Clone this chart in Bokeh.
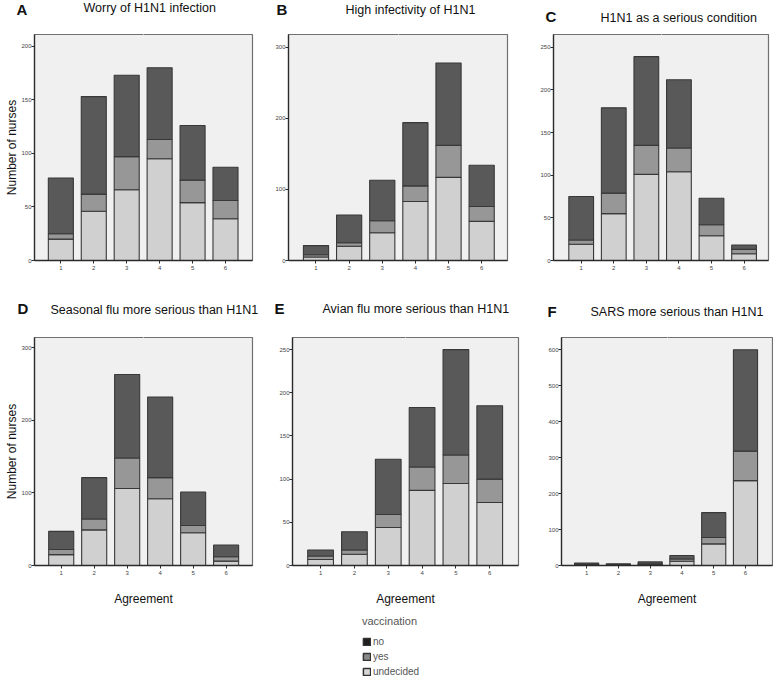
from bokeh.plotting import figure
from bokeh.models import (ColumnDataSource, Range1d, FixedTicker, Title, Legend, LegendItem,
                          LinearAxis)
from bokeh.layouts import column, row
from bokeh.embed import file_html
from bokeh.resources import INLINE

# ---------------- data ----------------
agreement = [1, 2, 3, 4, 5, 6]
agreement_labels = ["1", "2", "3", "4", "5", "6"]
stack_order = ["undecided", "yes", "no"]
legend_order = ["no", "yes", "undecided"]

panel_letters = ["A", "B", "C", "D", "E", "F"]
panel_titles = [
    "Worry of H1N1 infection",
    "High infectivity of H1N1",
    "H1N1 as a serious condition",
    "Seasonal flu more serious than H1N1",
    "Avian flu more serious than H1N1",
    "SARS more serious than H1N1",
]

# counts per agreement level 1..6
a_undecided = [20, 46, 66, 95, 54, 39]
a_yes = [5, 16, 31, 18, 21, 17]
a_no = [52, 91, 76, 67, 51, 31]

b_undecided = [5, 20, 39, 83, 117, 55]
b_yes = [3, 5, 17, 22, 45, 21]
b_no = [13, 39, 57, 89, 116, 58]

c_undecided = [19, 55, 101, 104, 29, 8]
c_yes = [5, 24, 34, 28, 13, 5]
c_no = [51, 100, 104, 80, 31, 5]

d_undecided = [15, 49, 106, 92, 45, 6]
d_yes = [7, 15, 42, 29, 10, 6]
d_no = [25, 57, 115, 111, 46, 16]

e_undecided = [7, 13, 44, 87, 95, 73]
e_yes = [4, 5, 15, 27, 33, 27]
e_no = [7, 21, 64, 69, 122, 85]

f_undecided = [2, 1, 3, 12, 60, 236]
f_yes = [1, 1, 2, 6, 18, 82]
f_no = [4, 3, 5, 10, 69, 282]

y_ticks_a = [0, 50, 100, 150, 200]
y_ticks_b = [0, 100, 200, 300]
y_ticks_c = [0, 50, 100, 150, 200, 250]
y_ticks_d = [0, 100, 200, 300]
y_ticks_e = [0, 50, 100, 150, 200, 250]
y_ticks_f = [0, 100, 200, 300, 400, 500, 600]

y_label = "Number of nurses"
x_label = "Agreement"
legend_title = "vaccination"

# ---------------- style ----------------
COLORS = {"undecided": "#d0d0d0", "yes": "#979797", "no": "#595959"}
EDGE = "#383838"
FRAME_BG = "#f0f0f0"
FONT = "Liberation Sans"

# b = (top, right, bottom, left) borders; sp = spacer height above frame;
# toff = title offset from frame left; loff/ls = letter offset / standoff
panels = [
    dict(und=a_undecided, yes=a_yes, no=a_no, ticks=y_ticks_a, ymax=211, xr=(0.2, 6.82),
         w=262, h=282, b=(33, 10, 20, 34), sp=18, toff=49, loff=-18, ls=-34, ylab=-1, xlab=False),
    dict(und=b_undecided, yes=b_yes, no=b_no, ticks=y_ticks_b, ymax=318, xr=(0.17, 6.78),
         w=255, h=282, b=(32, 10, 20, 26), sp=16, toff=57, loff=-12, ls=-30, ylab=None, xlab=False),
    dict(und=c_undecided, yes=c_yes, no=c_no, ticks=y_ticks_c, ymax=265, xr=(0.15, 6.75),
         w=256, h=282, b=(30, 5, 22, 36), sp=8, toff=47, loff=-8, ls=-28, ylab=None, xlab=False),
    dict(und=d_undecided, yes=d_yes, no=d_no, ticks=y_ticks_d, ymax=314, xr=(0.19, 6.8),
         w=262, h=326, b=(54, 10, 43, 34), sp=19, toff=16, loff=-17, ls=-28, ylab=-1, xlab=True),
    dict(und=e_undecided, yes=e_yes, no=e_no, ticks=y_ticks_e, ymax=264, xr=(0.17, 6.85),
         w=258, h=326, b=(55, 2, 43, 30), sp=20, toff=30, loff=-18, ls=-31, ylab=None, xlab=True),
    dict(und=f_undecided, yes=f_yes, no=f_no, ticks=y_ticks_f, ymax=634, xr=(0.21, 6.85),
         w=253, h=326, b=(52, 1, 43, 41), sp=17, toff=29, loff=-14, ls=-31, ylab=None, xlab=True),
]

figs = []
for i, cfg in enumerate(panels):
    top, right, bottom, left = cfg["b"]
    p = figure(width=cfg["w"], height=cfg["h"], output_backend="svg", toolbar_location=None,
               x_range=Range1d(*cfg["xr"]), y_range=Range1d(0, cfg["ymax"]),
               min_border_top=top, min_border_right=right,
               min_border_bottom=bottom, min_border_left=left)
    p.background_fill_color = FRAME_BG
    p.border_fill_color = "white"
    p.outline_line_color = "#707070"
    p.outline_line_width = 1.2
    p.grid.visible = False

    src = ColumnDataSource(dict(x=agreement, undecided=cfg["und"], yes=cfg["yes"], no=cfg["no"]))
    p.vbar_stack(stack_order, x="x", width=0.76, source=src,
                 fill_color=[COLORS[s] for s in stack_order],
                 line_color=EDGE, line_width=1.1)

    p.xaxis.ticker = FixedTicker(ticks=agreement)
    p.xaxis.major_label_overrides = {k: v for k, v in zip(agreement, agreement_labels)}
    p.yaxis.ticker = FixedTicker(ticks=cfg["ticks"])
    for ax in (p.xaxis, p.yaxis):
        ax.axis_line_color = "#2a2a2a"
        ax.axis_line_width = 1.3
        ax.major_tick_line_color = "#2a2a2a"
        ax.major_tick_out = 3
        ax.major_tick_in = 0
        ax.minor_tick_line_color = None
        ax.major_label_text_font = FONT
        ax.major_label_text_font_size = "6px"
        ax.major_label_text_color = "#444444"
        ax.axis_label_text_font = FONT
        ax.axis_label_text_font_style = "normal"
        ax.axis_label_text_color = "#111111"
    p.xaxis.major_label_standoff = 2
    p.yaxis.major_label_standoff = 0
    if cfg["ylab"] is not None:
        p.yaxis.axis_label = y_label
        p.yaxis.axis_label_text_font_size = "12px"
        p.yaxis.axis_label_standoff = cfg["ylab"]
    if cfg["xlab"]:
        p.xaxis.axis_label = x_label
        p.xaxis.axis_label_text_font_size = "12px"
        p.xaxis.axis_label_standoff = 14

    # invisible spacer between the frame and the panel title
    mid = (cfg["xr"][0] + cfg["xr"][1]) / 2
    spacer = LinearAxis(ticker=FixedTicker(ticks=[mid]), axis_line_color=None,
                        major_tick_line_color="white", minor_tick_line_color=None,
                        major_tick_out=cfg["sp"], major_tick_in=0, minor_tick_out=0,
                        major_label_standoff=0, major_label_text_font_size="1px",
                        major_label_text_color="white")
    p.add_layout(spacer, "above")
    p.add_layout(Title(text=panel_titles[i], align="left", offset=cfg["toff"],
                       vertical_align="bottom", standoff=-4,
                       text_font=FONT, text_font_size="12.5px", text_font_style="normal",
                       text_color="#111111"), "above")
    p.title.text = panel_letters[i]
    p.title.align = "left"
    p.title.offset = cfg["loff"]
    p.title.vertical_align = "bottom"
    p.title.standoff = cfg["ls"]
    p.title.text_font = FONT
    p.title.text_font_size = "15px"
    p.title.text_font_style = "bold"
    p.title.text_color = "#111111"
    figs.append(p)

# ---------------- legend ----------------
pl = figure(width=773, height=71, output_backend="svg", toolbar_location=None,
            x_range=Range1d(0, 1), y_range=Range1d(0, 1),
            min_border=0, x_axis_location=None, y_axis_location=None)
pl.outline_line_color = None
pl.grid.visible = False
pl.background_fill_color = "white"
pl.border_fill_color = "white"
items = []
LEG_FILL = {"no": "#1e1e1e", "yes": "#8a8a8a", "undecided": "#d6d6d6"}
for s in legend_order:
    src = ColumnDataSource(dict(x=[5.0], top=[0.0]))  # outside the visible range
    r = pl.vbar(x="x", top="top", width=0.5, source=src,
                fill_color=LEG_FILL[s], line_color="#333333", line_width=1.5)
    items.append(LegendItem(label=s, renderers=[r]))
leg = Legend(items=items, title=legend_title, location=(362, 2),
             padding=0, margin=0, spacing=3, border_line_color=None,
             background_fill_alpha=0, glyph_width=9, glyph_height=9,
             label_height=12, label_standoff=2,
             label_text_font=FONT, label_text_font_size="10px", label_text_color="#555555",
             title_text_font=FONT, title_text_font_size="11px", title_text_font_style="normal",
             title_text_color="#555555", title_standoff=8)
pl.add_layout(leg)

layout = column(row(*figs[:3]), row(*figs[3:]), pl)
open("out.html", "w").write(file_html(layout, INLINE))
